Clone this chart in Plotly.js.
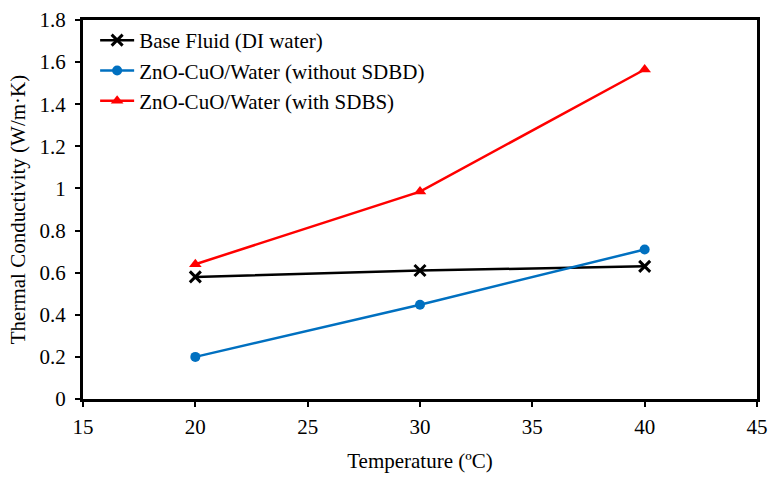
<!DOCTYPE html>
<html><head><meta charset="utf-8">
<script src="https://cdn.plot.ly/plotly-3.0.1.min.js"></script>
<style>body{margin:0;padding:0;background:#fff}#c{width:771px;height:477px}</style>
</head><body><div id="c"></div>
<script>
const temperature = [20, 30, 40];
const baseFluid = [0.58, 0.61, 0.63];
const withoutSDBD = [0.2, 0.448, 0.71];
const withSDBS = [0.64, 0.985, 1.565];
const names = ["Base Fluid (DI water)", "ZnO-CuO/Water (without SDBD)", "ZnO-CuO/Water (with SDBS)"];
const xTicks = [15, 20, 25, 30, 35, 40, 45];
const yTicks = [0, 0.2, 0.4, 0.6, 0.8, 1, 1.2, 1.4, 1.6, 1.8];

const FAM = "Liberation Serif, Times New Roman, serif";
const mk = (s) => ({family: FAM, size: s, color: "#000"});
const traces = [
  {x: temperature, y: baseFluid, name: names[0], mode: "lines+markers", legendgroup: "a",
   line: {color: "#000", width: 2.5},
   marker: {symbol: "x-thin", size: 11, line: {color: "#000", width: 3}}},
  {x: temperature, y: withoutSDBD, name: names[1], mode: "lines+markers", legendgroup: "b",
   line: {color: "#0070C0", width: 2.5},
   marker: {symbol: "circle", size: 10, color: "#0070C0"}},
  {x: temperature, y: withSDBS, name: names[2], mode: "lines+markers", legendgroup: "c",
   line: {color: "#FF0000", width: 2.5},
   marker: {symbol: "triangle-up", size: 11, color: "#FF0000"}}
];
const layout = {
  width: 771, height: 477,
  margin: {l: 83, r: 14, t: 20, b: 78},
  paper_bgcolor: "#fff", plot_bgcolor: "#fff",
  font: mk(21),
  showlegend: true,
  legend: {x: 0.018, y: 1.0, xanchor: "left", yanchor: "top", bgcolor: "rgba(0,0,0,0)",
           font: mk(21), traceorder: "grouped", tracegroupgap: 0, itemwidth: 34},
  xaxis: {range: [15, 45], tickvals: xTicks, ticktext: xTicks.map(String), tickfont: mk(21),
          showgrid: false, zeroline: false, showline: true, linecolor: "#000", linewidth: 3,
          mirror: true, ticks: "outside", ticklen: 5, tickwidth: 2, tickcolor: "#000",
          ticklabelstandoff: 2,
          title: {text: "Temperature (ºC)", font: mk(21), standoff: 16}},
  yaxis: {range: [0, 1.8], tickvals: yTicks, ticktext: yTicks.map(v => String(v)), tickfont: mk(21),
          showgrid: false, zeroline: false, showline: true, linecolor: "#000", linewidth: 3,
          mirror: true, ticks: "outside", ticklen: 5, tickwidth: 2, tickcolor: "#000",
          ticklabelstandoff: 5,
          title: {text: "Thermal Conductivity (W/m·K)", font: mk(21), standoff: 9}}
};
Plotly.newPlot("c", traces, layout, {displayModeBar: false, staticPlot: true});
</script></body></html>
